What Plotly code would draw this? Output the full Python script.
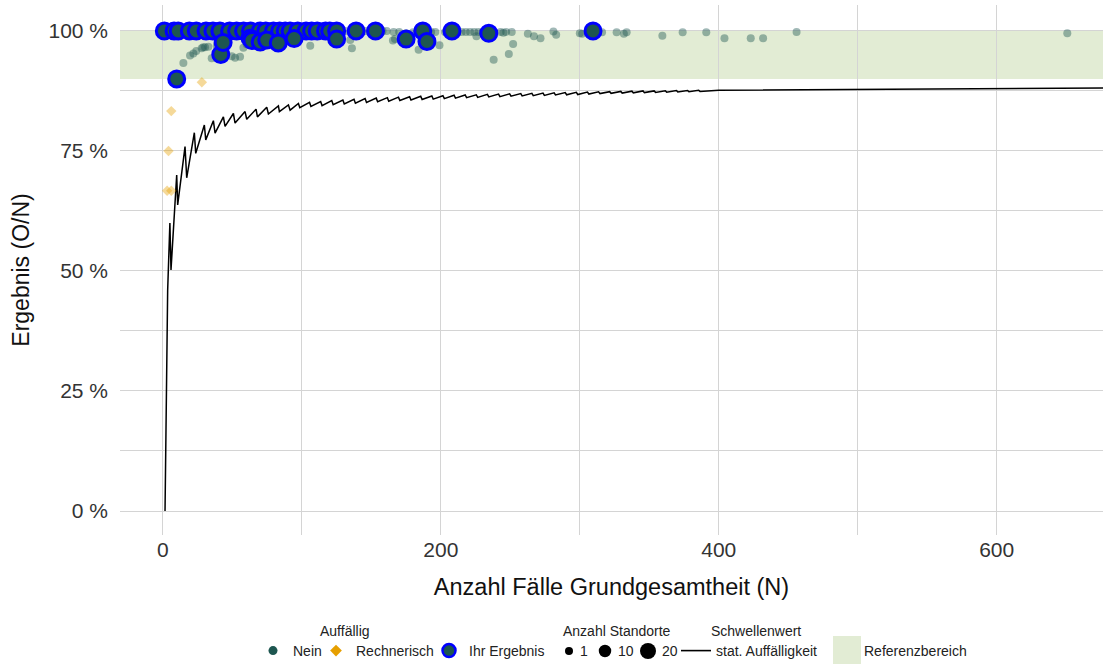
import plotly.graph_objects as go

# ---------------- data ----------------
# Auffällig = Nein (other sites)
nein_n = [3, 5, 7, 12, 14, 16, 18, 22, 25, 27, 33, 36, 38, 45, 47, 50, 53, 56, 60, 63, 66, 72, 77,
          81, 86, 89, 93, 96, 99, 101, 105, 108, 113, 116, 119, 122, 128, 131, 137, 143, 146, 149,
          155, 158, 161, 166, 170, 180, 183, 193, 196, 203, 212, 215, 218, 221, 224, 227, 230, 243,
          247, 251, 281, 316, 374, 391, 456,
          14.7, 19.5, 21.9, 24, 27.9, 30.3, 32.7, 35.1, 38.7, 51.9, 55.5, 57.9, 60.3, 29, 49.5, 82,
          106, 134.8, 136, 167, 165.5, 184, 199, 225.6, 238, 248.9, 252, 262.6, 267, 271.7, 301.7,
          326.5, 331.7, 333.7, 359.4, 404.1, 423, 431.9, 650.8, 46, 70, 90, 110, 140, 150, 175,
          205, 245, 283, 300]
nein_pct = [100, 100, 100, 100, 100, 100, 100, 100, 100, 100, 100, 100, 100, 100, 100, 100, 100,
            100, 100, 100, 100, 100, 100, 100, 100, 100, 100, 100, 100, 100, 100, 100, 100, 100,
            100, 100, 100, 100, 100, 100, 100, 100, 100, 100, 100, 99.8, 99.8, 99.7, 99.8, 99.8,
            99.8, 99.8, 99.8, 99.8, 99.8, 99.8, 99.8, 99.8, 99.8, 99.8, 99.8, 99.8, 99.9, 99.7,
            99.7, 99.7, 99.8,
            93.3, 94.9, 95.3, 95.8, 96.4, 96.6, 96.7, 94.3, 96.9, 94.4, 94.6, 96.5, 97.2, 96.6, 94.7,
            97.2, 96.9, 98.1, 96.4, 98.3, 98.0, 96.1, 97.0, 98.9, 94.0, 95.2, 97.3, 99.4, 98.9, 98.5,
            99.4, 99.7, 99.4, 99.7, 99.0, 98.5, 98.5, 98.5, 99.5, 98.6, 98.5, 98.8, 99.2, 99.0, 99.3,
            99.5, 99.6, 99.6, 99.2, 99.5]
nein_standorte = [1] * len(nein_n)

# Auffällig = Rechnerisch
rech_n = [3, 4, 6, 6, 28]
rech_pct = [66.7, 75.0, 66.7, 83.3, 89.3]

# Ihr Ergebnis
ihr_n = [1, 8, 11, 19, 24, 31, 36, 41, 48, 53, 58, 63, 70, 74, 79.5, 84, 88, 91.5, 97, 103, 107,
         111, 117, 120, 125, 139, 153, 187, 208, 309.5,
         9.9, 41.6, 43.3, 62.7, 64, 70, 74.7, 83, 94.4, 125, 175, 190, 234.5]
ihr_pct = [100] * 30 + [90.0, 95.1, 97.6, 98.5, 98.0, 97.7, 98.1, 97.5, 98.4, 98.3, 98.3, 97.8, 99.5]

# Schwellenwert: stat. Auffälligkeit
thr_n = [1.5, 3.4, 5.0, 5.8, 9.9, 10.6, 15.9, 17.1, 22.6, 23.6, 29.8, 30.8, 36.3, 37.5, 43.5, 44.7,
         50.7, 51.9, 59.1, 60.3, 67.0, 68.0, 74.7, 75.9, 83.1, 83.8, 90.3, 91.5, 97.5, 98.5, 105.5,
         106.5, 113.5, 114.5, 121.5, 122.5, 129.5, 130.5, 137.5, 138.5, 145.5, 146.5, 153.5, 154.5,
         161.5, 162.5, 169.5, 170.5, 177.5, 178.5, 185.5, 186.5, 193.5, 194.5, 201.5, 202.5, 209.5,
         210.5, 217.5, 218.5, 225.5, 226.5, 233.5, 234.5, 241.5, 242.5, 249.5, 250.5, 257.5, 258.5,
         265.5, 266.5, 273.5, 274.5, 281.5, 282.5, 289.5, 290.5, 297.5, 298.5, 305.5, 306.5, 313.5,
         314.5, 321.5, 322.5, 329.5, 330.5, 337.5, 338.5, 345.5, 346.5, 353.5, 354.5, 361.5, 362.5,
         369.5, 370.5, 377.5, 378.5, 385.5, 386.5, 400, 450, 500, 550, 600, 650, 677]
thr_pct = [0.0, 46.0, 60.0, 50.2, 70.0, 63.75, 75.9, 69.4, 78.8, 74.5, 80.4, 77.3, 81.3, 78.7, 82.1,
           80.1, 82.8, 80.8, 83.2, 81.6, 83.7, 82.1, 84.1, 82.7, 84.4, 83.2, 84.6, 83.5, 84.9, 84.0,
           85.1, 84.25, 85.3, 84.45, 85.5, 84.65, 85.6, 84.8, 85.75, 84.95, 85.9, 85.1, 86.0, 85.25,
           86.1, 85.35, 86.2, 85.5, 86.3, 85.6, 86.4, 85.7, 86.45, 85.8, 86.5, 85.9, 86.6, 86.0,
           86.65, 86.1, 86.7, 86.15, 86.8, 86.25, 86.85, 86.3, 86.9, 86.4, 86.95, 86.45, 87.0, 86.5,
           87.05, 86.55, 87.1, 86.65, 87.15, 86.7, 87.2, 86.75, 87.25, 86.85, 87.3, 86.95, 87.35,
           87.0, 87.4, 87.05, 87.45, 87.1, 87.5, 87.15, 87.5, 87.2, 87.55, 87.25, 87.6, 87.3, 87.6,
           87.35, 87.65, 87.4, 87.65, 87.75, 87.85, 87.95, 88.0, 88.05, 88.1]

# Referenzbereich
ref_low, ref_high = 90, 100

x_tick_vals = [0, 200, 400, 600]
y_tick_vals = [0, 25, 50, 75, 100]
y_tick_text = ["0 %", "25 %", "50 %", "75 %", "100 %"]
legend_standorte = [1, 10, 20]

# ---------------- style ----------------
TEAL = "#1d5650"
ORANGE = "#E69F00"
BLUE = "#0000FF"
FONT = "Liberation Sans"
TXT = "#222222"

L, R, T, B = 120, 3, 5, 129
W, H = 1106, 664
PW, PH = W - L - R, H - T - B


def px_x(p):
    return (p - L) / PW


def px_y(p):
    return (H - B - p) / PH


def size_px(s):
    return (64 + (s - 1) * (256 - 64) / 19) ** 0.5


fig = go.Figure()

fig.add_shape(type="rect", xref="paper", x0=0, x1=1, yref="y", y0=ref_low, y1=ref_high,
              fillcolor="rgba(158,192,112,0.30)", line_width=0, layer="between")

fig.add_trace(go.Scatter(x=thr_n, y=thr_pct, mode="lines", line=dict(color="black", width=1.5),
                         showlegend=False, hoverinfo="skip"))

fig.add_trace(go.Scatter(x=nein_n, y=nein_pct, mode="markers",
                         marker=dict(color=TEAL, opacity=0.42,
                                     size=[size_px(s) for s in nein_standorte], line_width=0),
                         showlegend=False))
fig.add_trace(go.Scatter(x=rech_n, y=rech_pct, mode="markers",
                         marker=dict(color=ORANGE, opacity=0.4, symbol="diamond", size=8,
                                     line_width=0),
                         showlegend=False))
fig.add_trace(go.Scatter(x=ihr_n, y=ihr_pct, mode="markers",
                         marker=dict(color=TEAL, size=16, line=dict(color=BLUE, width=3)),
                         showlegend=False))

# ---------------- legend entries ----------------
ROW_Y = 651
legend_items = [
    ("Nein", dict(color=TEAL, size=9, symbol="circle"), 253),
    ("Rechnerisch", dict(color=ORANGE, size=9, symbol="diamond"), 316),
    ("Ihr Ergebnis", dict(color=TEAL, size=13, symbol="circle", line=dict(color=BLUE, width=2.5)), 429),
]
layout_legends = {}
k = 1
for name, mk, lx in legend_items:
    key = "legend" if k == 1 else f"legend{k}"
    fig.add_trace(go.Scatter(x=[None], y=[None], mode="markers", marker=mk, name=name,
                             legend=key, showlegend=True))
    layout_legends[key] = dict(x=px_x(lx), y=px_y(ROW_Y), xanchor="left", yanchor="middle",
                               orientation="h", bgcolor="rgba(0,0,0,0)", borderwidth=0,
                               font=dict(family=FONT, size=14, color=TXT))
    k += 1

key = f"legend{k}"
fig.add_trace(go.Scatter(x=[None], y=[None], mode="lines", line=dict(color="black", width=1.6),
                         name="stat. Auffälligkeit", legend=key, showlegend=True))
layout_legends[key] = dict(x=px_x(676), y=px_y(ROW_Y), xanchor="left", yanchor="middle",
                           orientation="h", bgcolor="rgba(0,0,0,0)", borderwidth=0,
                           font=dict(family=FONT, size=14, color=TXT))

annotations = [
    dict(text="Auffällig", x=px_x(345), y=px_y(631)),
    dict(text="Anzahl Standorte", x=px_x(617), y=px_y(631)),
    dict(text="Schwellenwert", x=px_x(756), y=px_y(631)),
]
for a in annotations:
    a.update(xref="paper", yref="paper", showarrow=False, xanchor="center", yanchor="middle",
             font=dict(family=FONT, size=14, color=TXT))


def legend_text(txt, left_px):
    annotations.append(dict(text=txt, x=px_x(left_px), y=px_y(ROW_Y), xref="paper", yref="paper",
                            showarrow=False, xanchor="left", yanchor="middle",
                            font=dict(family=FONT, size=14, color=TXT)))


# Anzahl Standorte key (size scale)
for s, cx, tx in zip(legend_standorte, [569, 605, 648], [578, 616, 660]):
    r = size_px(s) / 2
    fig.add_shape(type="circle", xref="paper", yref="paper", xsizemode="pixel", ysizemode="pixel",
                  xanchor=px_x(cx), yanchor=px_y(ROW_Y), x0=-r, x1=r, y0=-r, y1=r,
                  fillcolor="black", line_width=0)
    legend_text(str(s), tx)

# Referenzbereich key
fig.add_shape(type="rect", xref="paper", yref="paper", x0=px_x(833), x1=px_x(861),
              y0=px_y(665), y1=px_y(636), fillcolor="rgba(158,192,112,0.30)", line_width=0)
legend_text("Referenzbereich", 862)

GRID = "#d4d4d4"
fig.update_layout(
    width=W, height=H, margin=dict(l=L, r=R, t=T, b=B, autoexpand=False),
    paper_bgcolor="white", plot_bgcolor="white",
    font=dict(family=FONT, color=TXT),
    annotations=annotations,
    **layout_legends,
)
fig.update_xaxes(range=[-30.9, 676.5], tickvals=x_tick_vals, showgrid=True, gridcolor=GRID,
                 gridwidth=1, zeroline=False, showline=False, ticks="",
                 minor=dict(dtick=100, tick0=0, showgrid=True, gridcolor=GRID, gridwidth=1),
                 tickfont=dict(size=21, color="#333"),
                 title=dict(text="Anzahl Fälle Grundgesamtheit (N)", font=dict(size=23.5, color="#111"),
                            standoff=18),
                 automargin=False)
fig.update_yaxes(range=[-5.0, 105.4], tickvals=y_tick_vals, ticktext=y_tick_text, showgrid=True,
                 gridcolor=GRID, gridwidth=1, zeroline=False, showline=False, ticks="",
                 ticklabelstandoff=11,
                 minor=dict(dtick=12.5, tick0=0, showgrid=True, gridcolor=GRID, gridwidth=1),
                 tickfont=dict(size=21, color="#333"),
                 title=dict(text="Ergebnis (O/N)", font=dict(size=23, color="#111"), standoff=12),
                 automargin=False)

fig.write_html("out.html", config={"displayModeBar": False},
               post_script="document.body.style.margin='0';document.body.style.overflow='hidden';")
